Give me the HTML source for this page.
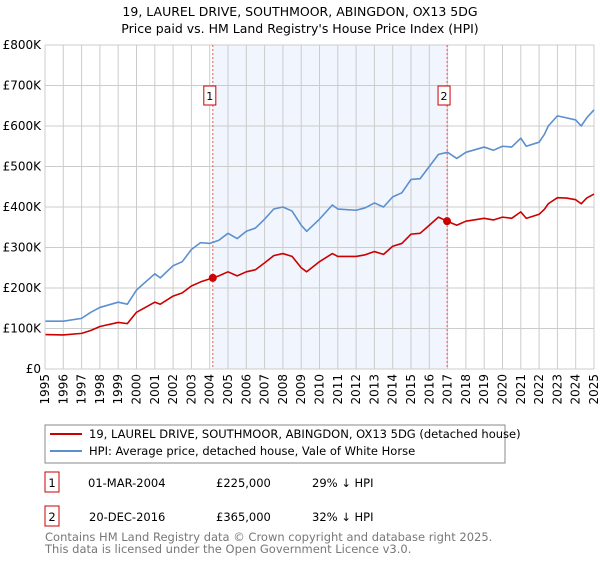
<!DOCTYPE html>
<html><head><meta charset="utf-8"><style>
body{margin:0;background:#fff;font-family:"Liberation Sans","DejaVu Sans",sans-serif;}
svg text{font-family:"DejaVu Sans","Liberation Sans",sans-serif;}
</style></head><body>
<svg id="c" width="600" height="560" xmlns="http://www.w3.org/2000/svg">
<text x="300" y="16" text-anchor="middle" font-size="12.5" fill="#000">19, LAUREL DRIVE, SOUTHMOOR, ABINGDON, OX13 5DG</text>
<text x="300" y="33" text-anchor="middle" font-size="12.5" fill="#000">Price paid vs. HM Land Registry's House Price Index (HPI)</text>
<g id="plot"></g>
<rect x="45" y="425" width="460" height="38" fill="#fff" stroke="#888"/>
<line x1="50" y1="434" x2="82" y2="434" stroke="#cc0000" stroke-width="2"/>
<text x="89" y="438" font-size="11.5">19, LAUREL DRIVE, SOUTHMOOR, ABINGDON, OX13 5DG (detached house)</text>
<line x1="50" y1="451" x2="82" y2="451" stroke="#5b8fd0" stroke-width="2"/>
<text x="89" y="455" font-size="11.5">HPI: Average price, detached house, Vale of White Horse</text>
<g font-size="11.5">
<rect x="45" y="472" width="14" height="20" fill="#fff" stroke="#cc0000"/>
<text x="52" y="487" text-anchor="middle">1</text>
<text x="88" y="487">01-MAR-2004</text>
<text x="216" y="487">£225,000</text>
<text x="312" y="487">29% ↓ HPI</text>
<rect x="45" y="506" width="14" height="20" fill="#fff" stroke="#cc0000"/>
<text x="52" y="521" text-anchor="middle">2</text>
<text x="89" y="521">20-DEC-2016</text>
<text x="216" y="521">£365,000</text>
<text x="312" y="521">32% ↓ HPI</text>
</g>
<text x="45" y="541" font-size="11.5" fill="#777">Contains HM Land Registry data © Crown copyright and database right 2025.</text>
<text x="45" y="553" font-size="11.5" fill="#777">This data is licensed under the Open Government Licence v3.0.</text>
</svg>
<script>
const hpiYears=[1995,1996,1997,1997.5,1998,1999,1999.5,2000,2001,2001.3,2002,2002.5,2003,2003.5,2004,2004.5,2005,2005.5,2006,2006.5,2007,2007.5,2008,2008.5,2009,2009.3,2010,2010.7,2011,2012,2012.5,2013,2013.5,2014,2014.5,2015,2015.5,2016,2016.5,2017,2017.5,2018,2019,2019.5,2020,2020.5,2021,2021.3,2022,2022.3,2022.5,2023,2023.5,2024,2024.3,2024.6,2025];
const hpiValues=[118,118,125,140,152,165,160,195,235,225,255,265,295,312,310,318,335,322,340,348,370,395,400,390,355,340,370,405,395,392,398,410,400,425,435,468,470,500,530,535,520,535,548,540,550,548,570,550,560,580,600,625,620,615,600,620,640];
const propYears=[1995,1996,1997,1997.5,1998,1999,1999.5,2000,2001,2001.3,2002,2002.5,2003,2003.5,2004.17,2004.5,2005,2005.5,2006,2006.5,2007,2007.5,2008,2008.5,2009,2009.3,2010,2010.7,2011,2012,2012.5,2013,2013.5,2014,2014.5,2015,2015.5,2016,2016.5,2016.97,2017.5,2018,2019,2019.5,2020,2020.5,2021,2021.3,2022,2022.3,2022.5,2023,2023.5,2024,2024.3,2024.6,2025];
const propValues=[85,84,88,95,105,115,112,140,165,160,180,188,205,215,225,230,240,230,240,245,262,280,285,278,250,240,265,285,278,278,282,290,283,303,310,333,335,355,375,365,355,365,372,368,375,372,388,372,382,395,408,423,422,418,408,422,432];
const saleYears=[2004.17,2016.97];
const saleValues=[225,365];
const saleLabels=["1","2"];
const yTicks=[0,100,200,300,400,500,600,700,800];
const yTickLabels=["£0","£100K","£200K","£300K","£400K","£500K","£600K","£700K","£800K"];
const xTicks=[1995,1996,1997,1998,1999,2000,2001,2002,2003,2004,2005,2006,2007,2008,2009,2010,2011,2012,2013,2014,2015,2016,2017,2018,2019,2020,2021,2022,2023,2024,2025];

const L=45,R=594,T=45,B=369;
const X=y=>L+(y-1995)/30*(R-L);
const Y=v=>B-v/800*(B-T);
const g=document.getElementById('plot');
const NS='http://www.w3.org/2000/svg';
function mk(t,a){const e=document.createElementNS(NS,t);for(const k in a)e.setAttribute(k,a[k]);g.appendChild(e);return e;}

let sh=mk('rect',{x:X(saleYears[0]),y:T,width:X(saleYears[1])-X(saleYears[0]),height:B-T,fill:'#eef3fc',opacity:0.8});


xTicks.forEach(t=>{
 const l=mk('line',{x1:X(t),x2:X(t),y1:T,y2:B,stroke:'#ccc','stroke-width':1});
 
 
 const tx=mk('text',{x:0,y:0,'font-size':12,'text-anchor':'end',transform:`translate(${X(t)+4},${B+5}) rotate(-90)`});
 tx.textContent=t;
 
 
});
yTicks.forEach((t,i)=>{
 const l=mk('line',{x1:L,x2:R,y1:Y(t),y2:Y(t),stroke:'#ccc','stroke-width':1});
 
 
 const tx=mk('text',{x:L-4,y:Y(t)+4,'font-size':12,'text-anchor':'end'});
 tx.textContent=yTickLabels[i];
 
 
});
saleYears.forEach((s,i)=>{
 const l=mk('line',{x1:X(s),x2:X(s),y1:T,y2:B,stroke:'#e06060','stroke-width':1,'stroke-dasharray':'2,2'});
 
 
 const bx=mk('rect',{x:X(s)-9,y:86,width:12,height:19,fill:'#fff',stroke:'#cc0000'});
 
 
 const tx=mk('text',{x:X(s)-3,y:100,'font-size':11,'text-anchor':'middle'});
 tx.textContent=saleLabels[i];
 
 
});
function line(xs,vs,col,name){
 const p=mk('polyline',{points:xs.map((x,i)=>X(x)+','+Y(vs[i])).join(' '),fill:'none',stroke:col,'stroke-width':1.6,'stroke-linejoin':'round'});
 
 
}
line(hpiYears,hpiValues,'#5b8fd0','hpi-line');
line(propYears,propValues,'#cc0000','property-line');
saleYears.forEach((s,i)=>{
 const c=mk('circle',{cx:X(s),cy:Y(saleValues[i]),r:4,fill:'#cc0000'});
 
 
});
const ax=mk('line',{x1:L,x2:L,y1:T,y2:B,stroke:'#ccc'});


</script>
</body></html>
